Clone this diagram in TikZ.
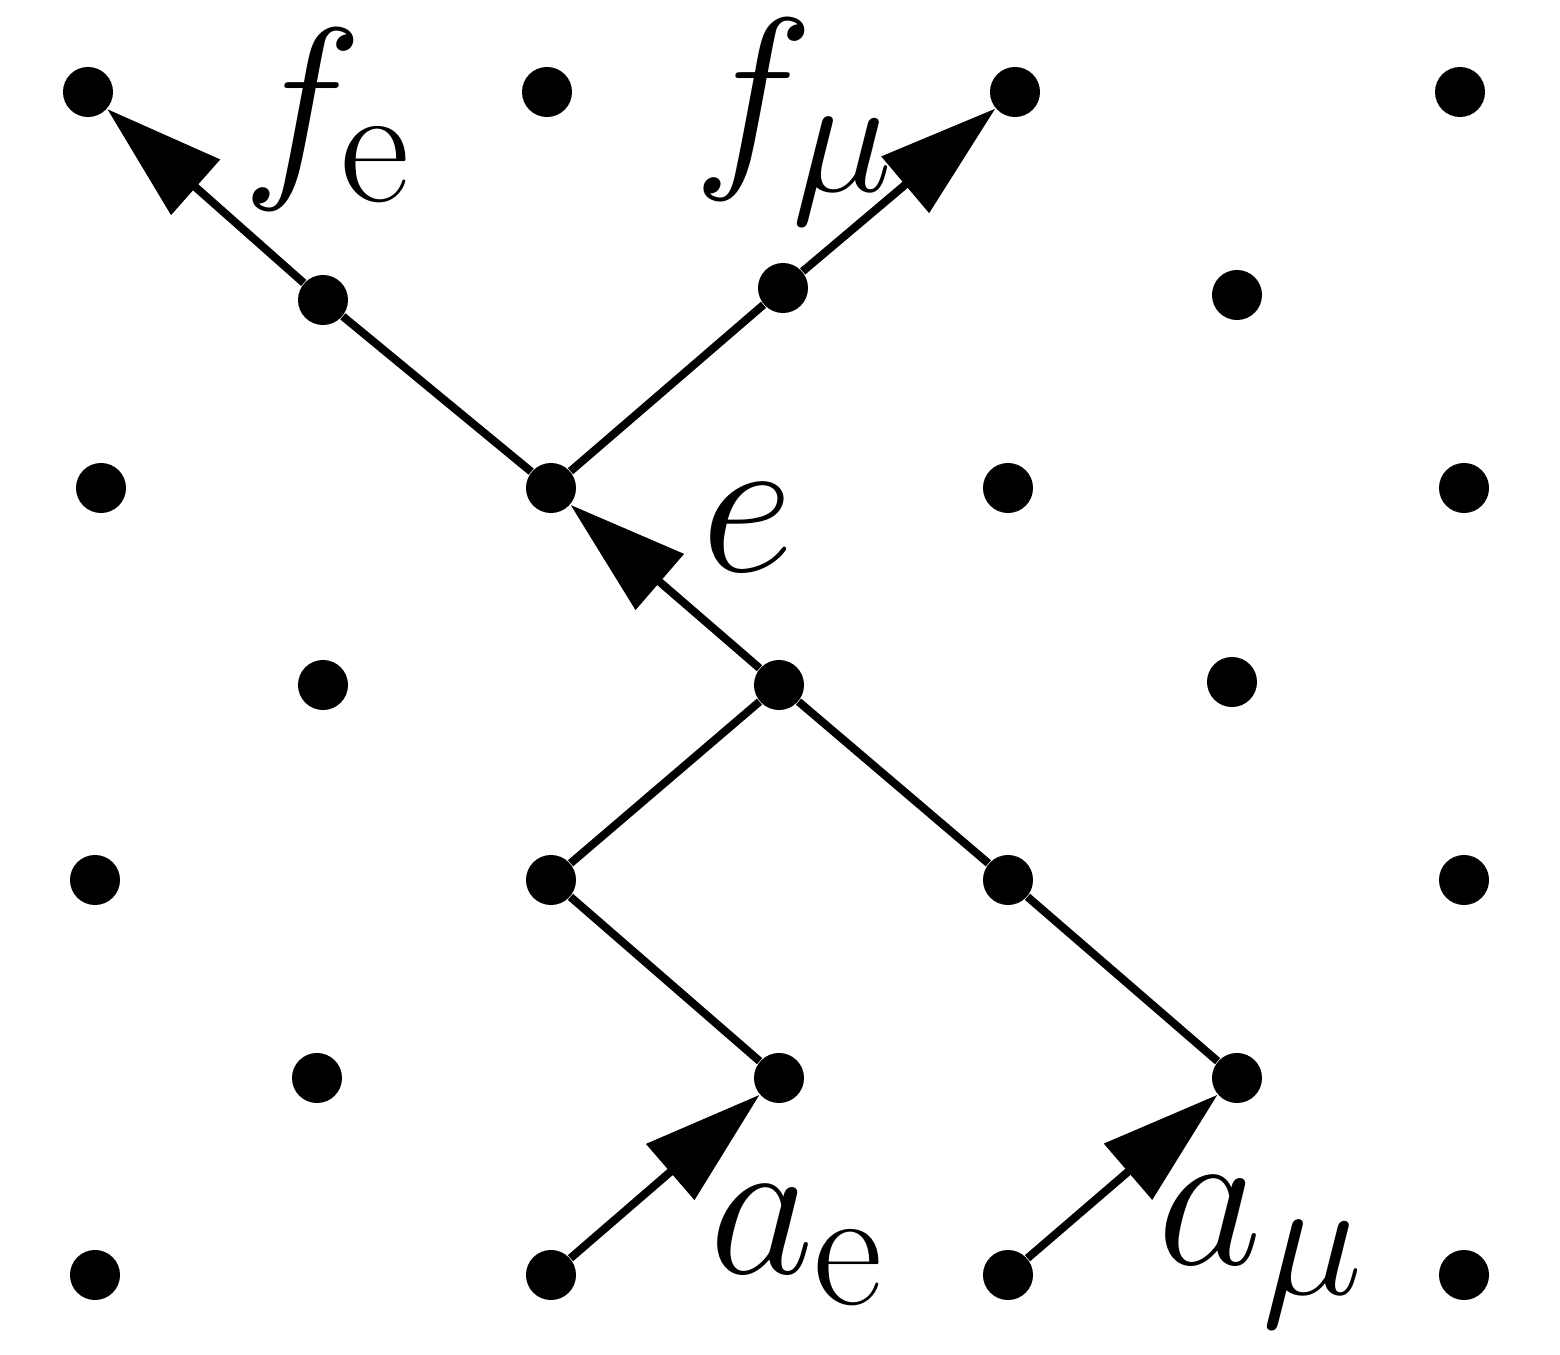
\documentclass[tikz,border=0pt]{standalone}
\usetikzlibrary{arrows.meta}
\newcommand{\biglab}[1]{\scalebox{2.33}{\Huge #1}}
\begin{document}
\begin{tikzpicture}[x=0.01cm,y=-0.01cm,
  dot/.style={circle,fill=black,minimum size=0.5cm,inner sep=0pt},
  edge/.style={line width=0.08cm},
  arr/.style={line width=0.08cm,-{Triangle[length=1.18cm,width=0.72cm]}},
  lab/.style={inner sep=0pt}]
\useasboundingbox (0,0) rectangle (1560,1355);
\foreach \n/\x/\y in {a1/88/92,a2/547/92,a3/1015/92,a4/1460/92,
  b1/323/300,b2/783/288,b3/1237/295,
  c1/101/488,c2/551/488,c3/1008/488,c4/1464/488,
  d1/323/685,d2/779/685,d3/1232/682,
  e1/95/880,e2/551/880,e3/1008/880,e4/1464/880,
  g1/317/1078,g2/779/1078,g3/1237/1078,
  h1/95/1275,h2/551/1275,h3/1008/1275,h4/1464/1275}
  \node[dot] (\n) at (\x,\y) {};
\draw[arr] (b1) -- (a1);
\draw[arr] (b2) -- (a3);
\draw[edge] (c2) -- (b1);
\draw[edge] (c2) -- (b2);
\draw[arr] (d2) -- (c2);
\draw[edge] (d2) -- (e2) -- (g2);
\draw[edge] (d2) -- (e3) -- (g3);
\draw[arr] (h2) -- (g2);
\draw[arr] (h3) -- (g3);
\node[lab] (lfe) at (328,120) {\biglab{$f_{\mathrm{e}}$}};
\node[lab] (lfm) at (795,122) {\biglab{$f_{\mu}$}};
\node[lab] (le) at (748,528) {\biglab{$e$}};
\node[lab] (lae) at (798,1245) {\biglab{$a_{\mathrm{e}}$}};
\node[lab] (lam) at (1262,1252) {\biglab{$a_{\mu}$}};
\end{tikzpicture}
\end{document}
